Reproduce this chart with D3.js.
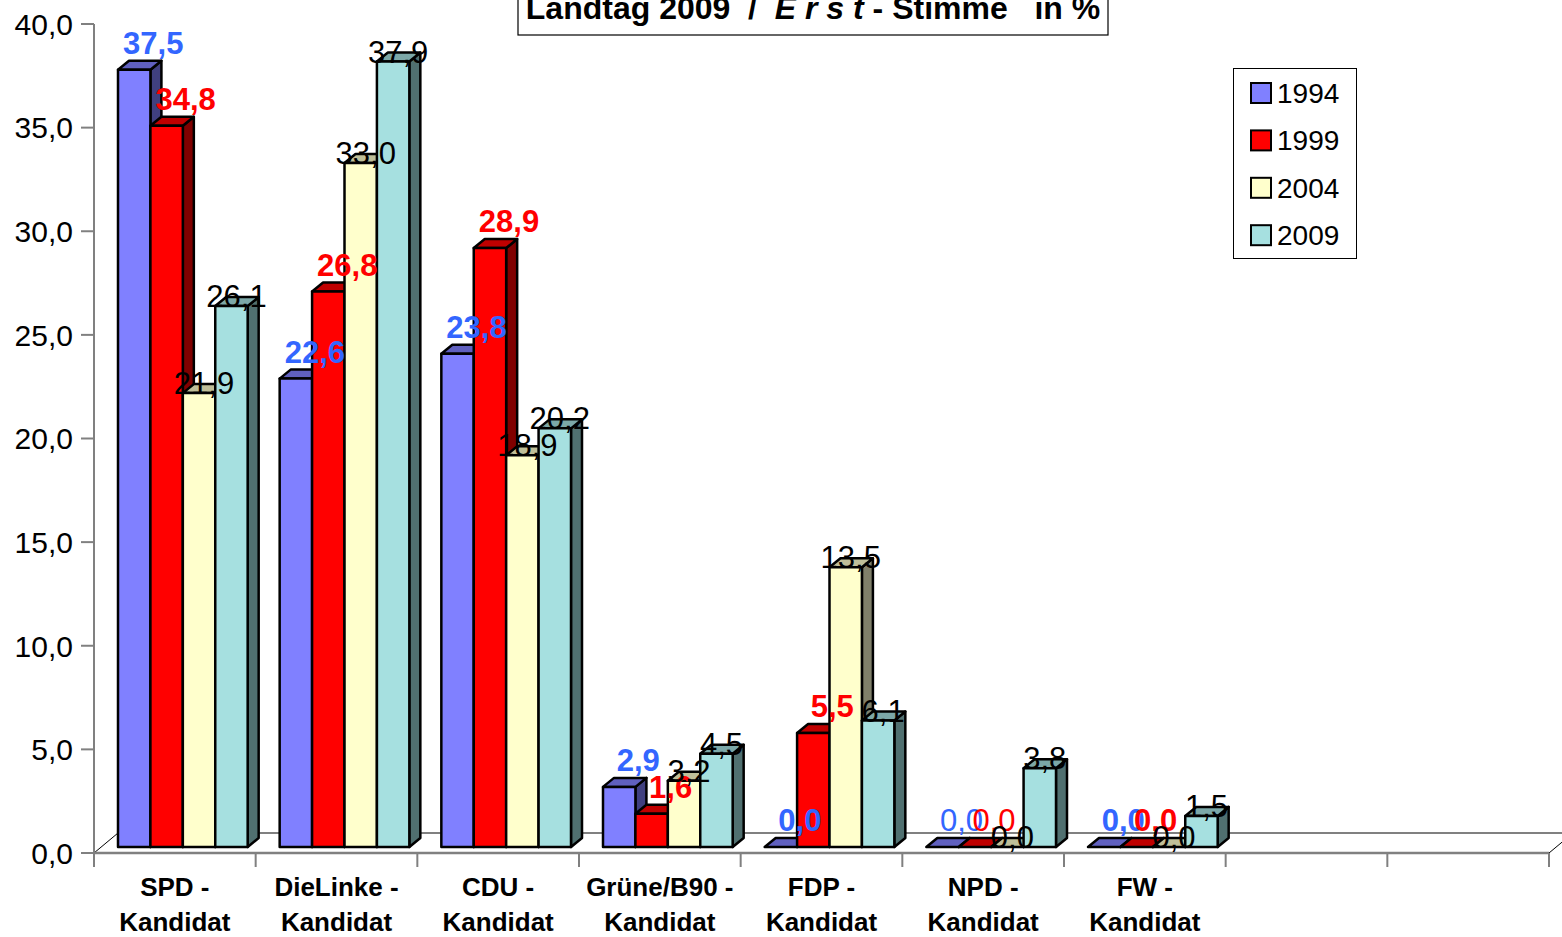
<!DOCTYPE html>
<html>
<head>
<meta charset="utf-8">
<script src="https://cdn.jsdelivr.net/npm/d3@7/dist/d3.min.js"></script>
<style>
  html, body { margin: 0; padding: 0; background: #fff; }
  svg { display: block; font-family: "Liberation Sans", Arial, sans-serif; }
</style>
</head>
<body>
<script>
// ---- data ----
const catLine1 = ["SPD -", "DieLinke -", "CDU -", "Grüne/B90 -", "FDP -", "NPD -", "FW -", "", ""];
const catLine2 = ["Kandidat", "Kandidat", "Kandidat", "Kandidat", "Kandidat", "Kandidat", "Kandidat", "", ""];
const seriesNames = ["1994", "1999", "2004", "2009"];
const v1994 = [37.5, 22.6, 23.8, 2.9, 0.0, 0.0, 0.0];
const v1999 = [34.8, 26.8, 28.9, 1.6, 5.5, 0.0, 0.0];
const v2004 = [21.9, 33.0, 18.9, 3.2, 13.5, 0.0, 0.0];
const v2009 = [26.1, 37.9, 20.2, 4.5, 6.1, 3.8, 1.5];
const yTicks = [0, 5, 10, 15, 20, 25, 30, 35, 40];
const plainLabelCats = [5]; // NPD labels of 1994/1999 are not bold

const seriesValues = [v1994, v1999, v2004, v2009];

// ---- styles ----
const frontCol = ["#8080FF", "#FF0000", "#FFFFCC", "#A6E0E0"];
const topCol   = ["#6060BF", "#C00000", "#BFBF99", "#7CA8A8"];
const sideCol  = ["#404080", "#800000", "#80806A", "#507070"];
const labelCol = ["#3366FF", "#FF0000", "#000000", "#000000"];

const W = 1562, H = 937;
const svg = d3.select("body").append("svg").attr("width", W).attr("height", H);

const x0 = 94, x1 = 1549;
const xScale = d3.scaleBand().domain(d3.range(catLine1.length)).range([x0, x1]).padding(0);
const yScale = d3.scaleLinear().domain([0, 40]).range([853, 24]);

const floorD = {dx: 24, dy: -20};
const barZ = {dx: 8, dy: -6};
const barD = {dx: 11, dy: -9};
const innerPad = 16;
const bw = (xScale.bandwidth() - 2 * innerPad) / 4;
const inner = d3.scaleBand().domain(d3.range(4)).range([innerPad, xScale.bandwidth() - innerPad]);

const fmt = v => d3.format(".1f")(v).replace(".", ",");
const axisCol = "#808080";

// ---- floor ----
const yF = yScale(0);
svg.append("line").attr("x1", x0 + floorD.dx).attr("y1", yF + floorD.dy)
  .attr("x2", x1 + floorD.dx).attr("y2", yF + floorD.dy)
  .attr("stroke", axisCol).attr("stroke-width", 2);
svg.append("line").attr("x1", x0).attr("y1", yF).attr("x2", x0 + floorD.dx).attr("y2", yF + floorD.dy)
  .attr("stroke", "#000").attr("stroke-width", 1);
svg.append("line").attr("x1", x1).attr("y1", yF).attr("x2", x1 + floorD.dx).attr("y2", yF + floorD.dy)
  .attr("stroke", "#000").attr("stroke-width", 1);
svg.append("line").attr("x1", x0).attr("y1", yF).attr("x2", x1).attr("y2", yF)
  .attr("stroke", axisCol).attr("stroke-width", 2.5);

// ---- y axis ----
svg.append("line").attr("x1", x0).attr("y1", yScale(40)).attr("x2", x0).attr("y2", yF + 14)
  .attr("stroke", axisCol).attr("stroke-width", 2);
const yg = svg.append("g");
yTicks.forEach(t => {
  yg.append("line").attr("x1", x0 - 13).attr("x2", x0).attr("y1", yScale(t)).attr("y2", yScale(t))
    .attr("stroke", axisCol).attr("stroke-width", 2);
  yg.append("text").attr("x", x0 - 21).attr("y", yScale(t)).attr("dy", "0.36em")
    .attr("text-anchor", "end").attr("font-size", 30).attr("fill", "#000").text(fmt(t));
});

// ---- x axis ticks and labels ----
const boundaries = d3.range(catLine1.length + 1).map(i => x0 + i * xScale.bandwidth());
boundaries.forEach(b => {
  svg.append("line").attr("x1", b).attr("x2", b).attr("y1", yF).attr("y2", yF + 14)
    .attr("stroke", axisCol).attr("stroke-width", 2);
});
catLine1.forEach((c, i) => {
  const cx = xScale(i) + xScale.bandwidth() / 2;
  const t = svg.append("text").attr("text-anchor", "middle").attr("font-size", 26)
    .attr("font-weight", "bold").attr("fill", "#000");
  t.append("tspan").attr("x", cx).attr("y", 896).text(c);
  t.append("tspan").attr("x", cx).attr("y", 931).text(catLine2[i]);
});

// ---- bars ----
const barsG = svg.append("g");
for (let i = 0; i < v2009.length; i++) {
  for (let s = 0; s < 4; s++) {
    const v = seriesValues[s][i];
    const x = xScale(i) + barZ.dx + inner(s);
    const yb = yScale(0) + barZ.dy;
    const yt = yScale(v) + barZ.dy;
    const g = barsG.append("g").attr("stroke", "#000").attr("stroke-width", 2.5).attr("stroke-linejoin", "round");
    g.append("polygon").attr("points", [[x + bw, yt], [x + bw + barD.dx, yt + barD.dy], [x + bw + barD.dx, yb + barD.dy], [x + bw, yb]].join(" "))
      .attr("fill", sideCol[s]);
    g.append("polygon").attr("points", [[x, yt], [x + barD.dx, yt + barD.dy], [x + bw + barD.dx, yt + barD.dy], [x + bw, yt]].join(" "))
      .attr("fill", topCol[s]);
    if (yb - yt > 0.5) {
      g.append("rect").attr("x", x).attr("y", yt).attr("width", bw).attr("height", yb - yt).attr("fill", frontCol[s]);
    }
  }
}

// ---- value labels ----
const labG = svg.append("g");
for (let s = 0; s < 4; s++) {
  for (let i = 0; i < v2009.length; i++) {
    const v = seriesValues[s][i];
    const x = xScale(i) + barZ.dx + inner(s);
    const yt = yScale(v) + barZ.dy;
    const cx = x + bw / 2;
    const colored = s < 2;
    const bold = colored && !plainLabelCats.includes(i);
    labG.append("text")
      .attr("x", colored ? cx + 19 : cx + 5)
      .attr("y", colored ? yt - 16 : yt + 1)
      .attr("text-anchor", "middle").attr("font-size", 31)
      .attr("font-weight", bold ? "bold" : "normal")
      .attr("fill", labelCol[s]).text(fmt(v));
  }
}

// ---- title ----
svg.append("rect").attr("x", 518).attr("y", -10).attr("width", 590).attr("height", 45)
  .attr("fill", "#fff").attr("stroke", "#000").attr("stroke-width", 1.2);
const title = svg.append("text").attr("x", 813).attr("y", 19).attr("text-anchor", "middle")
  .attr("font-size", 32).attr("font-weight", "bold").attr("fill", "#000").style("white-space", "pre");
title.append("tspan").text("Landtag 2009  /  ");
title.append("tspan").attr("font-style", "italic").text("E r s t");
title.append("tspan").text(" - Stimme   in %");

// ---- legend ----
const lg = svg.append("g");
lg.append("rect").attr("x", 1233.5).attr("y", 68.5).attr("width", 123).attr("height", 190)
  .attr("fill", "#fff").attr("stroke", "#000").attr("stroke-width", 1);
seriesNames.forEach((n, k) => {
  const yy = 83 + k * 47.4;
  lg.append("rect").attr("x", 1251).attr("y", yy).attr("width", 20).attr("height", 20)
    .attr("fill", frontCol[k]).attr("stroke", "#000").attr("stroke-width", 2);
  lg.append("text").attr("x", 1277).attr("y", yy + 20).attr("font-size", 28).attr("fill", "#000").text(n);
});
</script>
</body>
</html>
